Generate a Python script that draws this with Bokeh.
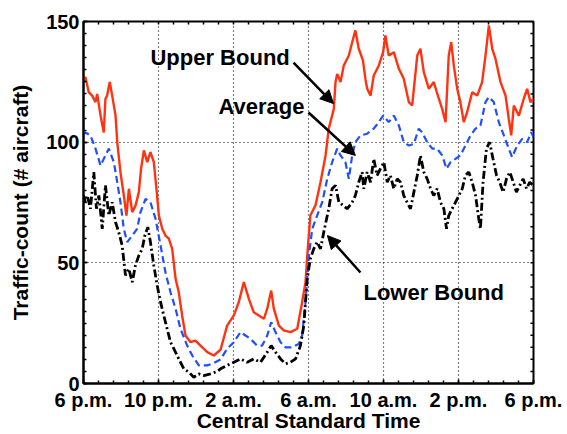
from bokeh.plotting import figure
from bokeh.models import Range1d, FixedTicker, Arrow, NormalHead, Label
from bokeh.embed import file_html
from bokeh.resources import INLINE

# ---------------- data (hours after 6 p.m., traffic count) ----------------
upper_h = [0.0, 0.1, 0.28, 0.46, 0.64, 0.73, 0.91, 1.08, 1.17, 1.26, 1.40, 1.53, 1.71, 1.80, 1.97,
           2.15, 2.29, 2.42, 2.6, 2.78, 2.95, 3.07, 3.22, 3.4, 3.57, 3.75, 3.89, 4.02, 4.2, 4.37,
           4.55, 4.73, 4.91, 5.08, 5.26, 5.44, 5.71, 5.97, 6.24, 6.6, 6.95, 7.31, 7.66, 8.02, 8.28,
           8.55, 8.82, 9.08, 9.35, 9.62, 9.8, 10.01, 10.15, 10.42, 10.68, 11.04, 11.4, 11.66, 11.84,
           11.96, 12.1, 12.37, 12.64, 12.91, 13.08, 13.35, 13.44, 13.53, 13.71, 13.88, 14.15, 14.33,
           14.5, 14.68, 14.9, 15.04, 15.13, 15.31, 15.48, 15.75, 15.98, 16.1, 16.28, 16.55, 16.82,
           17.08, 17.35, 17.53, 17.8, 17.97, 18.15, 18.42, 18.68, 18.95, 19.13, 19.31, 19.48, 19.61,
           19.75, 19.93, 20.1, 20.28, 20.46, 20.73, 21.0, 21.26, 21.44, 21.62, 21.8, 21.97, 22.24,
           22.51, 22.68, 22.81, 22.95, 23.22, 23.48, 23.66, 23.84, 24.0]
upper_v = [126, 127, 120.7, 119.3, 116.6, 120, 111, 104, 118, 119.3, 124.9, 119.3, 111, 100, 87.6,
           77.9, 69.6, 80.7, 71, 73.8, 79.3, 89, 96.6, 91.7, 95.9, 91.7, 80.7, 69.6, 64.1, 61.3,
           60, 55.8, 43.4, 37.8, 28.2, 19.9, 17.1, 17.8, 15.7, 13, 11.6, 14, 24, 28.2, 33.7,
           42, 35.1, 29.5, 28.2, 26.8, 31, 38.5, 31, 24, 22, 21.3, 22.7, 33.7, 42,
           55.8, 69.6, 73.8, 83.4, 94.5, 105.6, 113.8, 124.9, 128.3, 124.9, 131.8, 135.9, 141.4,
           146.3, 138.7, 134, 126, 122.1, 119.3, 127.6, 131.8, 137.3, 144.2, 135.9, 137.3, 130.4,
           126.3, 116.6, 115.2, 135.9, 138.7, 129, 122.1, 124.9, 118, 113.8, 108.3, 135.9, 141.4,
           131.8, 122.1, 116.6, 108.3, 112.4, 120.7, 119.3, 124.9, 135.9, 148.4, 138.7, 134.6, 124.9,
           119.3, 109.7, 102.8, 115.2, 111, 118, 122.1, 116.6, 118]

avg_h = [0.0, 0.1, 0.37, 0.64, 0.91, 1.17, 1.35, 1.62, 1.8, 1.97, 2.15, 2.33, 2.6, 2.86, 3.04,
         3.31, 3.57, 3.84, 4.11, 4.37, 4.64, 4.91, 5.17, 5.53, 5.8, 6.15, 6.6, 6.95, 7.31, 7.66,
         8.02, 8.37, 8.64, 8.91, 9.26, 9.53, 9.8, 10.01, 10.24, 10.51, 10.77, 11.13, 11.48, 11.66,
         11.84, 12.02, 12.2, 12.46, 12.73, 13.0, 13.26, 13.53, 13.71, 13.97, 14.15, 14.33, 14.5,
         14.77, 15.13, 15.48, 15.75, 15.98, 16.28, 16.55, 16.82, 17.08, 17.35, 17.62, 17.88, 18.06,
         18.33, 18.6, 18.86, 19.13, 19.36, 19.57, 19.84, 20.1, 20.37, 20.64, 20.91, 21.17, 21.44,
         21.62, 21.88, 22.15, 22.42, 22.68, 22.86, 23.13, 23.4, 23.66, 23.88, 24.0]
avg_v = [103, 104, 102.8, 97.3, 90.3, 94.5, 97.3, 91.7, 83.4, 75.1, 64.1, 58.6, 61.3, 64.1, 71,
         76.5, 75.1, 68.3, 57.2, 46.1, 37.8, 31, 22.7, 15.7, 11.6, 7.5, 7.5, 8.5, 10, 14.4,
         17.1, 21.3, 19.9, 18.5, 15.7, 15.7, 19.9, 25.4, 21.3, 17.1, 15, 15, 16.4, 19.9,
         33.7, 53, 64.1, 69.6, 75.1, 84.8, 91.7, 97.3, 94.5, 91.7, 84.8, 94.5, 100,
         102.8, 103.5, 105.6, 108.3, 111, 108.3, 111, 106.9, 100, 98.6, 99.3, 105.6, 104.1,
         100, 97.3, 97.3, 94.5, 89, 91.7, 93.1, 94.5, 98.6, 102.8, 105.6, 106.9, 116.6,
         118.7, 116.6, 108.3, 102.8, 97.3, 93.8, 98.6, 101.4, 100, 104.1, 102]

lower_h = [0.0, 0.1, 0.2, 0.37, 0.55, 0.69, 0.82, 1.0, 1.17, 1.35, 1.53, 1.71, 1.88, 2.06, 2.24,
           2.42, 2.6, 2.77, 2.95, 3.13, 3.27, 3.43, 3.57, 3.75, 3.93, 4.11, 4.28, 4.46, 4.64, 4.82,
           5.08, 5.35, 5.62, 5.88, 6.15, 6.42, 6.77, 7.13, 7.31, 7.66, 8.02, 8.37, 8.73, 9.08, 9.44,
           9.8, 10.01, 10.24, 10.51, 10.77, 11.04, 11.31, 11.57, 11.75, 11.93, 12.1, 12.28, 12.46,
           12.64, 12.85, 13.08, 13.26, 13.44, 13.62, 13.85, 14.06, 14.33, 14.5, 14.68, 14.86, 14.95,
           15.13, 15.31, 15.48, 15.66, 15.84, 16.02, 16.2, 16.37, 16.55, 16.73, 16.91, 17.08, 17.26,
           17.44, 17.62, 17.8, 17.97, 18.15, 18.33, 18.51, 18.68, 18.86, 19.04, 19.22, 19.36, 19.48,
           19.66, 19.84, 20.02, 20.2, 20.37, 20.55, 20.73, 20.91, 21.08, 21.17, 21.31, 21.49, 21.66,
           21.84, 22.03, 22.2, 22.38, 22.56, 22.74, 22.92, 23.09, 23.27, 23.45, 23.63, 23.8, 24.0]
lower_v = [78, 75.1, 77.9, 72.4, 87.6, 72.4, 77.9, 64.1, 82.1, 69.6, 75.1, 66.8, 62.7, 57.2, 44.8,
           47.5, 42, 48.9, 53, 55.8, 61.3, 64.8, 58.6, 48.9, 40.6, 33.7, 28.2, 22.7, 17.1, 14.4,
           10.2, 6.1, 4.7, 2.6, 4, 3.3, 4, 5, 6.1, 7.5, 8.8, 10.2, 8.8, 10.2, 8.8,
           13, 15.7, 13, 10.2, 8.2, 8.8, 10.2, 15.7, 24, 43.4, 51.7, 55.8, 58.6,
           55.8, 64.1, 72.4, 80.7, 82.1, 75.1, 73.8, 72.4, 75.1, 77.9, 83.4, 87.6, 80.7,
           87.6, 83.4, 93.1, 86.2, 89, 91.7, 83.4, 86.2, 80.7, 84.8, 83.4, 77.9, 75.1,
           72.4, 79.3, 86.2, 94.5, 87.6, 84.8, 80.7, 77.9, 80.7, 75.1, 72.4, 64.1, 69.6,
           72.4, 75.1, 77.9, 80.7, 86.2, 87.6, 83.4, 77.9, 68.3, 64.1, 83.4, 97.3, 100,
           93.1, 86.2, 83.4, 79.3, 84.8, 87.6, 83.4, 79.3, 82.1, 84.8, 80.7, 83.4, 82]

x_ticks = [0, 4, 8, 12, 16, 20, 24]
x_tick_labels = ["6 p.m.", "10 p.m.", "2 a.m.", "6 a.m.", "10 a.m.", "2 p.m.", "6 p.m."]
x_minor = [i * 0.8 for i in range(31)]
y_ticks = [0, 50, 100, 150]
y_minor = [i * 5 for i in range(31)]

X0, X1, Y0, Y1 = 0, 24, 0, 150
FW, FH = 450, 362
FONT = "Liberation Sans"

p = figure(frame_width=FW, frame_height=FH, output_backend="svg", toolbar_location=None,
           x_range=Range1d(X0, X1), y_range=Range1d(Y0, Y1),
           min_border_left=83, min_border_top=21, min_border_right=30, min_border_bottom=50)
p.background_fill_color = "white"
p.border_fill_color = "white"
p.outline_line_color = "black"
p.outline_line_width = 2

xt = FixedTicker(ticks=x_ticks, minor_ticks=x_minor)
yt = FixedTicker(ticks=y_ticks, minor_ticks=y_minor)

for ax in (p.xaxis[0], p.yaxis[0]):
    ax.axis_line_width = 2
    ax.major_tick_in = 4
    ax.major_tick_out = 0
    ax.minor_tick_in = 3
    ax.minor_tick_out = 0
    ax.major_tick_line_width = 1.5
    ax.minor_tick_line_width = 1.5
    ax.major_label_text_font = FONT
    ax.major_label_text_font_style = "bold"
    ax.major_label_text_font_size = "20px"
    ax.major_label_text_color = "black"
    ax.axis_label_text_font = FONT
    ax.axis_label_text_font_style = "bold"
    ax.axis_label_text_font_size = "21px"
    ax.axis_label_text_color = "black"

p.xaxis[0].ticker = xt
p.yaxis[0].ticker = yt
p.xaxis[0].major_label_overrides = {t: lab for t, lab in zip(x_ticks, x_tick_labels)}
p.xaxis[0].axis_label = "Central Standard Time"
p.yaxis[0].axis_label = "Traffic-count (# aircraft)"
p.xaxis[0].major_label_standoff = 5
p.xaxis[0].axis_label_standoff = -5
p.yaxis[0].major_label_standoff = 4
p.yaxis[0].axis_label_standoff = 11

# inward tick marks on the top and right edges of the box
tick_len_y = 3.0 * (Y1 - Y0) / FH   # 3 px expressed in y units
tick_len_x = 3.0 * (X1 - X0) / FW   # 3 px expressed in x units
p.segment(x0=x_minor, y0=[Y1] * len(x_minor), x1=x_minor, y1=[Y1 - tick_len_y] * len(x_minor),
          line_color="black", line_width=1.5)
p.segment(x0=[X1] * len(y_minor), y0=y_minor, x1=[X1 - tick_len_x] * len(y_minor), y1=y_minor,
          line_color="black", line_width=1.5)

p.xgrid.ticker = xt
p.ygrid.ticker = yt
for g in (p.xgrid, p.ygrid):
    g.grid_line_color = "black"
    g.grid_line_dash = "1 3"
    g.grid_line_width = 1.2

p.line(upper_h, upper_v, line_color="#ff3311", line_width=2.4)
p.line(avg_h, avg_v, line_color="#1f4fff", line_width=2.2, line_dash="7 4")
p.line(lower_h, lower_v, line_color="black", line_width=2.8, line_dash="8 3 2 3")

# annotations
ann = [("Upper Bound", 3.57, 135.2), ("Average", 7.2, 114.9), ("Lower Bound", 14.93, 37.7)]
for txt, ax_, ay_ in ann:
    p.add_layout(Label(x=ax_, y=ay_, text=txt, text_font=FONT, text_font_style="bold",
                       text_font_size="22px", text_color="black", text_baseline="alphabetic"))

arrows = [(11.2, 133.0, 13.33, 116.0), (12.0, 112.3, 14.5, 94.5), (14.77, 46.0, 13.01, 61.3)]
for x0, y0, x1, y1 in arrows:
    p.add_layout(Arrow(end=NormalHead(size=13, fill_color="black", line_color="black"),
                       x_start=x0, y_start=y0, x_end=x1, y_end=y1,
                       line_color="black", line_width=2.5))

open("out.html", "w").write(file_html(p, INLINE))
